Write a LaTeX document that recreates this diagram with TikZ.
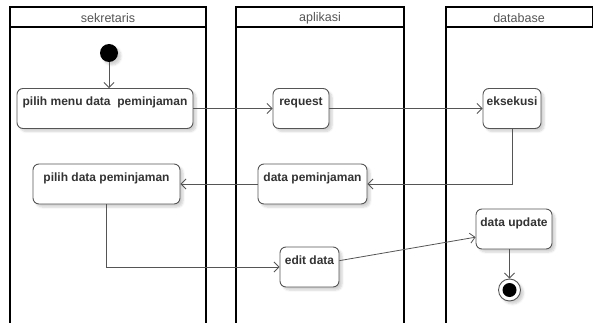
\documentclass[tikz,border=0pt]{standalone}
\usepackage{fontspec}
\setmainfont{Liberation Sans}
\usetikzlibrary{arrows.meta,shadows.blur}
\definecolor{edge}{HTML}{555555}
\definecolor{txt}{HTML}{333333}
\tikzset{
  act/.style={draw=edge, line width=0.9pt, rounded corners=6pt, fill=white,
    font=\bfseries\fontsize{12}{14}\selectfont, text=txt, inner xsep=2pt, inner ysep=5pt,
    text height=12pt, text depth=18pt,
    blur shadow={shadow xshift=3pt, shadow yshift=-3pt, shadow opacity=18, shadow blur steps=6}},
  flow/.style={draw=edge, line width=0.8pt, -{Straight Barb[length=5pt,width=10pt]}},
  lane/.style={draw=black, line width=1.4pt},
  lanetitle/.style={font=\fontsize{12.5}{14}\selectfont, text=edge}
}
\begin{document}
\begin{tikzpicture}[x=1pt,y=-1pt]
\useasboundingbox (0,0) rectangle (593,323);
% swimlanes
\draw[lane] (10,323) -- (10,7) -- (206,7) -- (206,323);
\draw[lane] (10,27) -- (206,27);
\draw[lane] (236,323) -- (236,7) -- (404,7) -- (404,323);
\draw[lane] (236,27) -- (404,27);
\draw[lane] (446,323) -- (446,7) -- (592.3,7) -- (592.3,27) -- (446,27);
\node[lanetitle] (t1) at (108,18) {sekretaris};
\node[lanetitle] (t2) at (320,18) {aplikasi};
\node[lanetitle] (t3) at (519,18) {database};
% start
\node[circle, fill=black, minimum size=18pt, inner sep=0pt,
  blur shadow={shadow xshift=3pt, shadow yshift=-3pt, shadow opacity=18}] (start) at (109,53) {};
% activities
\node[act, minimum width=176pt] (m1) at (105,108.5) {pilih menu data\ \ peminjaman};
\node[act, minimum width=56pt] (req) at (301,108.5) {request};
\node[act, minimum width=58pt] (eks) at (512,108.5) {eksekusi};
\node[act, minimum width=109pt] (dp) at (312.5,184) {data peminjaman};
\node[act, minimum width=147pt] (pd) at (106.5,184) {pilih data peminjaman};
\node[act, minimum width=59pt] (ed) at (309.5,267) {edit data};
\node[act, minimum width=76pt] (du) at (514,229) {data update};
% end
\node[circle, draw=edge, line width=0.9pt, fill=white, minimum size=22pt, inner sep=0pt,
  blur shadow={shadow xshift=3pt, shadow yshift=-3pt, shadow opacity=18}] (end) at (509.5,290) {};
\node[circle, fill=black, minimum size=14pt, inner sep=0pt] (endin) at (end) {};
% flows
\draw[flow] (start.south) -- (start.south |- m1.north);
\draw[flow] (m1) -- (req);
\draw[flow] (req) -- (eks);
\draw[flow] (eks.south) |- (dp.east);
\draw[flow] (dp.west) -- (pd.east);
\draw[flow] (pd.south) |- (ed.west);
\draw[flow] (ed.12) -- (du.192);
\draw[flow] (end.north |- du.south) -- (end.north);
\end{tikzpicture}
\end{document}
